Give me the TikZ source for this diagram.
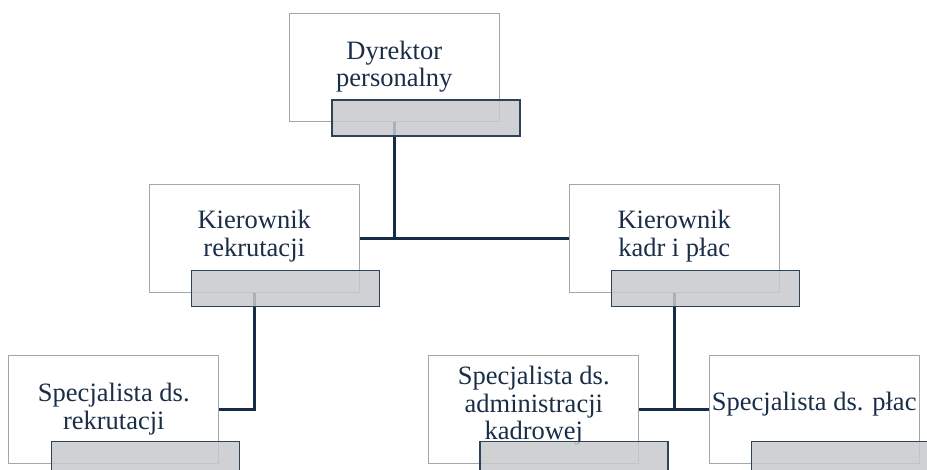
\documentclass[tikz,border=0pt]{standalone}
\usepackage{fontspec}
\setmainfont{Liberation Serif}
\definecolor{txtc}{RGB}{27,46,72}
\definecolor{linkc}{RGB}{22,43,72}
\definecolor{cardline}{RGB}{166,166,166}
\definecolor{barline}{RGB}{47,67,88}
\definecolor{barfill}{RGB}{199,201,204}
\tikzset{
    card/.style={draw=cardline, fill=white, line width=1pt, minimum width=210pt, minimum height=108pt, inner sep=0pt},
    role/.style={align=center, text=txtc, inner sep=0pt, font=\fontsize{26.5}{27.5}\selectfont},
    bar/.style={draw=barline, fill=barfill, fill opacity=0.85, line width=1.3pt, minimum width=188pt, minimum height=36pt, inner sep=0pt, anchor=north west},
    link/.style={draw=linkc, line width=3pt}
}
\begin{document}
\begin{tikzpicture}[x=1pt, y=-1pt]
            \useasboundingbox (0,0) rectangle (927,470);
            \clip (0,0) rectangle (927,470);
            % boxes
            \node[card] (dyr) at (394.3, 68) {};
            \node[card] (kr) at (254.2, 238.5) {};
            \node[card] (kk) at (674.2, 238.5) {};
            \node[card] (sr) at (113.8, 409.5) {};
            \node[card] (sa) at (533.8, 409.5) {};
            \node[card] (sp) at (814.2, 409.5) {};

            \node[role] (dyrtxt) at ([yshift=-53pt]dyr.north) {Dyrektor\\personalny};
            \node[role] (krtxt) at ([yshift=-52pt]kr.north) {Kierownik\\rekrutacji};
            \node[role] (kktxt) at ([yshift=-52pt]kk.north) {Kierownik\\kadr i płac};
            \node[role] (srtxt) at ([yshift=-54pt]sr.north) {Specjalista ds.\\rekrutacji};
            \node[role] (satxt) at ([yshift=-51pt]sa.north) {Specjalista ds.\\administracji\\kadrowej};
            \node[role] (sptxt) at ([yshift=-49pt]sp.north) {Specjalista ds. płac};

            % lines
            \draw [link] (dyr.south) -- (dyr.south |- kr.east);
            \draw [link] (kr.east) -- (kk.west);
            \draw [link] (kr.south) |- (sr.east);
            \draw [link] (kk.south) -- (kk.south |- sa.east);
            \draw [link] (sa.east) -- (sp.west);

            % grey bars
            \node[bar] (dyrbar) at ([xshift=42.4pt, yshift=23pt]dyr.south west) {};
            \node[bar] (krbar) at ([xshift=42.4pt, yshift=23pt]kr.south west) {};
            \node[bar] (kkbar) at ([xshift=42.4pt, yshift=23pt]kk.south west) {};
            \node[bar] (srbar) at ([xshift=42.4pt, yshift=23pt]sr.south west) {};
            \node[bar] (sabar) at ([xshift=51pt, yshift=23pt]sa.south west) {};
            \node[bar] (spbar) at ([xshift=42.4pt, yshift=23pt]sp.south west) {};
        \end{tikzpicture}
\end{document}
